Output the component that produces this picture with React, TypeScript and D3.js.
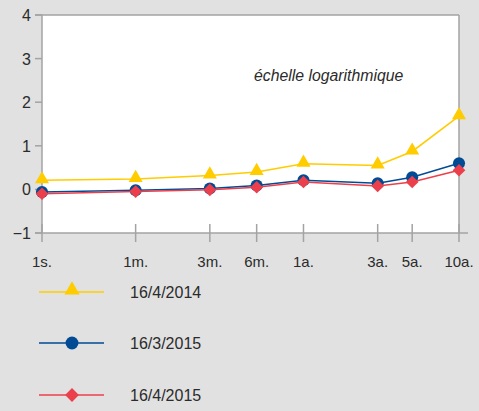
import React, { useEffect, useRef } from "react";
import * as d3 from "d3";

// maturities, in months (1 week = 0.25)
const maturities = [0.25, 1, 3, 6, 12, 36, 60, 120];
const tickLabels = ["1s.", "1m.", "3m.", "6m.", "1a.", "3a.", "5a.", "10a."];
const yTicks = [-1, 0, 1, 2, 3, 4];

const seriesNames = ["16/4/2014", "16/3/2015", "16/4/2015"];
const rates2014Apr = [0.21, 0.24, 0.32, 0.4, 0.59, 0.55, 0.87, 1.68];
const rates2015Mar = [-0.06, -0.02, 0.02, 0.09, 0.21, 0.14, 0.28, 0.6];
const rates2015Apr = [-0.1, -0.05, -0.01, 0.05, 0.17, 0.08, 0.17, 0.44];

const colors = ["#ffcc00", "#004b93", "#ec3f4c"];
const shapes = [d3.symbolTriangle, d3.symbolCircle, d3.symbolSquare];
const shapeSizes = [85, 115, 80];
const rotations = [0, 0, 45];

export default function App() {
  const svgRef = useRef<SVGSVGElement>(null);

  useEffect(() => {
    if (!svgRef.current) return;
    const svg = d3.select(svgRef.current);
    svg.selectAll("*").remove();

    const width = 479;
    const height = 411;
    const font = "Liberation Sans, Arial, sans-serif";
    const axisColor = "#a3a3a3";
    const textColor = "#2b2b2b";

    svg.append("rect").attr("width", width).attr("height", height).attr("fill", "#e1e1e1");

    const x = d3.scaleLog().domain([0.25, 120]).range([42, 459]);
    const y = d3.scaleLinear().domain([-1, 4]).range([233, 15]);

    // plot area
    svg.append("rect")
      .attr("x", x(0.25)).attr("y", y(4))
      .attr("width", x(120) - x(0.25)).attr("height", y(-1) - y(4))
      .attr("fill", "#fff");

    // frame: top and right
    svg.append("line")
      .attr("x1", x(0.25) - 7).attr("x2", x(120)).attr("y1", y(4)).attr("y2", y(4))
      .attr("stroke", axisColor).attr("stroke-width", 1.5);
    svg.append("line")
      .attr("x1", x(120)).attr("x2", x(120)).attr("y1", y(4)).attr("y2", y(-1))
      .attr("stroke", axisColor).attr("stroke-width", 1.5);

    // y axis
    svg.append("line")
      .attr("x1", x(0.25)).attr("x2", x(0.25)).attr("y1", y(4)).attr("y2", y(-1))
      .attr("stroke", axisColor).attr("stroke-width", 1.5);
    yTicks.forEach(t => {
      svg.append("line")
        .attr("x1", x(0.25) - 7).attr("x2", x(0.25)).attr("y1", y(t)).attr("y2", y(t))
        .attr("stroke", axisColor).attr("stroke-width", 1.5);
      svg.append("text")
        .attr("x", 31).attr("y", y(t) + 6)
        .attr("text-anchor", "end")
        .attr("font-family", font).attr("font-size", 16)
        .attr("fill", textColor)
        .text(t < 0 ? "\u2212" + Math.abs(t) : String(t));
    });

    // x axis
    svg.append("line")
      .attr("x1", x(0.25) - 7).attr("x2", x(120) + 9).attr("y1", y(-1)).attr("y2", y(-1))
      .attr("stroke", axisColor).attr("stroke-width", 1.5);
    maturities.forEach((m, i) => {
      svg.append("line")
        .attr("x1", x(m)).attr("x2", x(m)).attr("y1", y(-1) - 9).attr("y2", y(-1) + 9)
        .attr("stroke", axisColor).attr("stroke-width", 1.5);
      svg.append("text")
        .attr("x", x(m)).attr("y", 267)
        .attr("text-anchor", "middle")
        .attr("font-family", font).attr("font-size", 15)
        .attr("fill", textColor)
        .text(tickLabels[i]);
    });

    // annotation
    svg.append("text")
      .attr("x", 254).attr("y", 81)
      .attr("font-family", font).attr("font-size", 15.8).attr("font-style", "italic")
      .attr("fill", textColor)
      .text("échelle logarithmique");

    const allSeries = [rates2014Apr, rates2015Mar, rates2015Apr];
    const line = d3.line<number>()
      .x((_, i) => x(maturities[i]))
      .y(d => y(d));

    allSeries.forEach((vals, s) => {
      svg.append("path")
        .datum(vals)
        .attr("d", line)
        .attr("fill", "none")
        .attr("stroke", colors[s])
        .attr("stroke-width", 1.5);
      const sym = d3.symbol().type(shapes[s]).size(shapeSizes[s]);
      svg.selectAll(null)
        .data(vals)
        .enter()
        .append("path")
        .attr("d", sym)
        .attr("transform", (d, i) => `translate(${x(maturities[i])},${y(d) + (s === 0 ? -1 : 0)}) rotate(${rotations[s]})`)
        .attr("fill", colors[s]);
    });

    // legend
    const legendY = [292, 343, 395];
    seriesNames.forEach((name, s) => {
      svg.append("line")
        .attr("x1", 39).attr("x2", 104).attr("y1", legendY[s]).attr("y2", legendY[s])
        .attr("stroke", colors[s]).attr("stroke-width", 1.5);
      svg.append("path")
        .attr("d", d3.symbol().type(shapes[s]).size(shapeSizes[s] + 15)())
        .attr("transform", `translate(72,${legendY[s] + (s === 0 ? -2 : 0)}) rotate(${rotations[s]})`)
        .attr("fill", colors[s]);
      svg.append("text")
        .attr("x", 130).attr("y", legendY[s] + 6)
        .attr("font-family", font).attr("font-size", 16)
        .attr("fill", textColor)
        .text(name);
    });
  }, []);

  return (
    <div style={{ position: "absolute", top: 0, left: 0 }}>
      <svg ref={svgRef} width={479} height={411} style={{ display: "block" }} />
    </div>
  );
}
